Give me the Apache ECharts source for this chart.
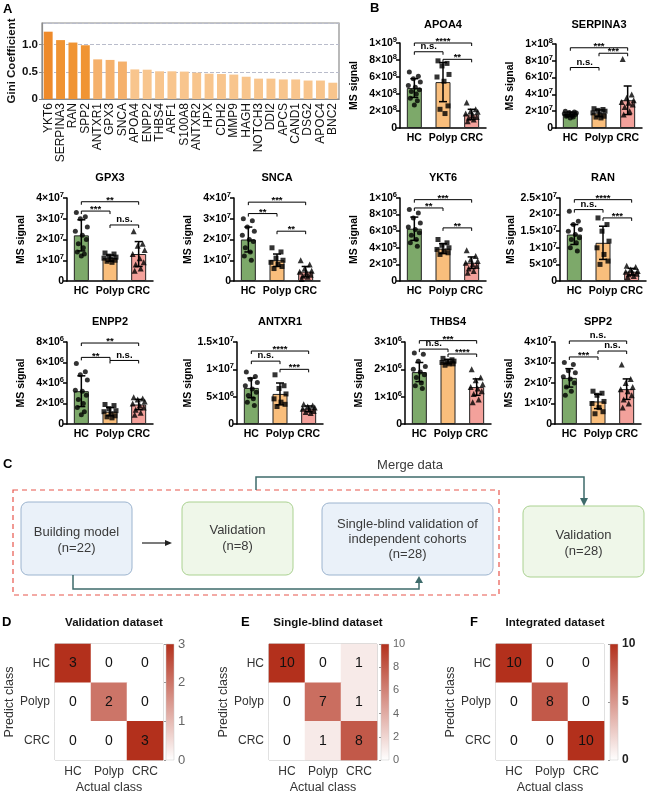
<!DOCTYPE html>
<html><head><meta charset="utf-8">
<script src="https://cdn.jsdelivr.net/npm/echarts@6/dist/echarts.min.js"></script>
<style>html,body{margin:0;padding:0;background:#fff}#c{width:662px;height:798px}</style>
</head><body><div id="c"></div>
<script>
const FONT = '"Liberation Sans", Arial, Helvetica, sans-serif';

// ---------- Panel A data ----------
const giniGenes = ['YKT6','SERPINA3','RAN','SPP2','ANTXR1','GPX3','SNCA','APOA4','ENPP2','THBS4','ARF1','S100A8','ANTXR2','HPX','CDH2','MMP9','HAGH','NOTCH3','DDI2','APCS','CAND1','DSG2','APOC4','BNC2'];
const giniValues = [1.24,1.085,1.04,0.99,0.73,0.72,0.69,0.545,0.54,0.51,0.51,0.505,0.485,0.467,0.46,0.45,0.41,0.375,0.375,0.36,0.36,0.34,0.34,0.30];
const giniTicks = ['0','0.5','1.0'];

// ---------- Panel B data (values in each panel's unit) ----------
const groups = ['HC','Polyp','CRC'];

const APOA4_unit = 1e8, APOA4_step = 2;
const APOA4_ticks = ['0','2×10^8','4×10^8','6×10^8','8×10^8','1×10^9'];
const APOA4_mean = [4.7, 5.4, 1.6];
const APOA4_sd = [1.1, 2.3, 0.6];
const APOA4_HC = [6.6, 6.1, 5.8, 5.4, 5.0, 4.8, 4.5, 4.3, 4.0, 3.5, 3.2, 2.7];
const APOA4_Polyp = [7.9, 7.6, 7.3, 6.3, 6.0, 5.5, 2.6, 2.2, 1.7];
const APOA4_CRC = [3.0, 2.2, 2.0, 1.9, 1.7, 1.5, 1.3, 1.2, 1.0, 0.8];
const APOA4_sig = [[0,2,10,'****'],[0,1,8.97,'n.s.'],[1,2,8.08,'**']];

const SERPINA3_unit = 1e7, SERPINA3_step = 2;
const SERPINA3_ticks = ['0','2×10^7','4×10^7','6×10^7','8×10^7','1×10^8'];
const SERPINA3_mean = [1.65, 1.75, 3.3];
const SERPINA3_sd = [0.25, 0.4, 1.7];
const SERPINA3_HC = [2.0, 1.9, 1.85, 1.8, 1.7, 1.65, 1.6, 1.5, 1.45, 1.4, 1.3, 1.2];
const SERPINA3_Polyp = [2.3, 2.2, 2.1, 2.0, 1.8, 1.6, 1.4, 1.3, 1.2];
const SERPINA3_CRC = [8.2, 4.0, 3.6, 3.3, 3.1, 3.0, 2.8, 2.5, 2.0, 1.6];
const SERPINA3_sig = [[0,2,9.55,'***'],[1,2,8.9,'***'],[0,1,7.2,'n.s.']];

const GPX3_unit = 1e7, GPX3_step = 1;
const GPX3_ticks = ['0','1×10^7','2×10^7','3×10^7','4×10^7'];
const GPX3_mean = [2.2, 1.1, 1.3];
const GPX3_sd = [0.75, 0.15, 0.6];
const GPX3_HC = [3.3, 3.1, 3.0, 2.6, 2.4, 2.2, 2.0, 1.8, 1.6, 1.4, 1.3, 1.2];
const GPX3_Polyp = [1.35, 1.3, 1.2, 1.15, 1.1, 1.05, 1.0, 0.95, 0.9];
const GPX3_CRC = [2.4, 1.8, 1.7, 1.5, 1.3, 1.1, 0.9, 0.8, 0.6, 0.5];
const GPX3_sig = [[0,2,3.82,'**'],[0,1,3.37,'***'],[1,2,2.7,'n.s.']];

const SNCA_unit = 1e7, SNCA_step = 1;
const SNCA_ticks = ['0','1×10^7','2×10^7','3×10^7','4×10^7'];
const SNCA_mean = [2.0, 1.0, 0.45];
const SNCA_sd = [0.6, 0.3, 0.25];
const SNCA_HC = [3.0, 2.9, 2.6, 2.4, 2.2, 2.0, 1.9, 1.6, 1.4, 1.2, 1.0];
const SNCA_Polyp = [1.6, 1.4, 1.1, 1.0, 0.9, 0.8, 0.7, 0.6];
const SNCA_CRC = [1.0, 0.8, 0.6, 0.5, 0.45, 0.4, 0.3, 0.25, 0.2, 0.1];
const SNCA_sig = [[0,2,3.8,'***'],[0,1,3.25,'**'],[1,2,2.4,'**']];

const YKT6_unit = 1e5, YKT6_step = 2;
const YKT6_ticks = ['0','2×10^5','4×10^5','6×10^5','8×10^5','1×10^6'];
const YKT6_mean = [6.3, 3.9, 2.2];
const YKT6_sd = [1.4, 0.6, 0.7];
const YKT6_HC = [8.6, 8.2, 7.6, 7.0, 6.5, 6.2, 5.8, 5.5, 5.0, 4.6, 4.2];
const YKT6_Polyp = [5.0, 4.6, 4.3, 4.0, 3.8, 3.6, 3.4, 3.2];
const YKT6_CRC = [3.7, 3.0, 2.6, 2.4, 2.2, 2.0, 1.8, 1.5, 1.2, 1.0];
const YKT6_sig = [[0,2,9.8,'***'],[0,1,8.8,'**'],[1,2,6.4,'**']];

const RAN_unit = 1e6, RAN_step = 5;
const RAN_ticks = ['0','5×10^6','1×10^7','1.5×10^7','2×10^7','2.5×10^7'];
const RAN_mean = [14, 11.5, 2.8];
const RAN_sd = [3, 5, 1.0];
const RAN_HC = [21, 18, 17, 15.5, 15, 14, 13, 12.5, 11.5, 10, 9];
const RAN_Polyp = [19, 17, 15, 12, 10, 8, 6, 5];
const RAN_CRC = [4.6, 4.2, 3.5, 3.0, 2.8, 2.5, 2.2, 2.0, 1.5, 1.2];
const RAN_sig = [[0,2,24.5,'****'],[0,1,21.5,'n.s.'],[1,2,19,'***']];

const ENPP2_unit = 1e6, ENPP2_step = 2;
const ENPP2_ticks = ['0','2×10^6','4×10^6','6×10^6','8×10^6'];
const ENPP2_mean = [3.2, 1.2, 1.9];
const ENPP2_sd = [1.5, 0.4, 0.5];
const ENPP2_HC = [5.9, 5.1, 4.8, 4.3, 3.3, 3.2, 2.8, 2.4, 2.0, 1.6, 1.2, 0.9];
const ENPP2_Polyp = [1.9, 1.8, 1.5, 1.3, 1.2, 1.0, 0.8, 0.7, 0.6];
const ENPP2_CRC = [2.6, 2.5, 2.4, 2.2, 2.0, 1.8, 1.6, 1.4, 1.1, 0.9];
const ENPP2_sig = [[0,2,7.9,'**'],[0,1,6.5,'**'],[1,2,6.2,'n.s.']];

const ANTXR1_unit = 1e6, ANTXR1_step = 5;
const ANTXR1_ticks = ['0','5×10^6','1×10^7','1.5×10^7'];
const ANTXR1_mean = [6.6, 5.5, 2.8];
const ANTXR1_sd = [1.8, 2.0, 0.5];
const ANTXR1_HC = [9.5, 8.7, 8.2, 7.6, 7.0, 6.4, 5.8, 5.2, 4.6, 4.0, 3.4];
const ANTXR1_Polyp = [9.0, 7.0, 6.5, 5.5, 4.6, 4.0, 3.6, 3.2];
const ANTXR1_CRC = [3.6, 3.4, 3.2, 3.0, 2.8, 2.6, 2.4, 2.2, 2.0];
const ANTXR1_sig = [[0,2,13.35,'****'],[0,1,11.5,'n.s.'],[1,2,10,'***']];

const THBS4_unit = 1e6, THBS4_step = 1;
const THBS4_ticks = ['0','1×10^6','2×10^6','3×10^6'];
const THBS4_mean = [1.9, 2.28, 1.35];
const THBS4_sd = [0.35, 0.08, 0.3];
const THBS4_HC = [2.6, 2.55, 2.3, 2.1, 2.0, 1.9, 1.8, 1.7, 1.5, 1.4, 1.3];
const THBS4_Polyp = [2.4, 2.35, 2.3, 2.3, 2.25, 2.2, 2.2, 2.15];
const THBS4_CRC = [2.0, 1.7, 1.6, 1.45, 1.35, 1.3, 1.2, 1.1, 0.9, 0.8];
const THBS4_sig = [[0,2,3.05,'***'],[0,1,2.74,'n.s.'],[1,2,2.56,'****']];

const SPP2_unit = 1e7, SPP2_step = 1;
const SPP2_ticks = ['0','1×10^7','2×10^7','3×10^7','4×10^7'];
const SPP2_mean = [2.25, 1.1, 1.7];
const SPP2_sd = [0.45, 0.35, 0.5];
const SPP2_HC = [3.0, 2.9, 2.6, 2.5, 2.3, 2.2, 2.0, 1.8, 1.6, 1.4];
const SPP2_Polyp = [1.6, 1.5, 1.4, 1.1, 1.0, 0.8, 0.6, 0.5];
const SPP2_CRC = [2.9, 2.2, 2.0, 1.8, 1.7, 1.6, 1.4, 1.2, 1.0, 0.8];
const SPP2_sig = [[0,2,4.05,'n.s.'],[1,2,3.56,'n.s.'],[0,1,3.27,'***']];

// ---------- Panels D/E/F data ----------
const classes = ['HC','Polyp','CRC'];
const validationMatrix = [[3,0,0],[0,2,0],[0,0,3]];
const singleBlindMatrix = [[10,0,1],[0,7,1],[0,1,8]];
const integratedMatrix = [[10,0,0],[0,8,0],[0,0,10]];
const validationTicks = ['0','1','2','3'];
const singleBlindTicks = ['0','2','4','6','8','10'];
const integratedTicks = ['0','5','10'];

// ---------- build ----------
const chart = echarts.init(document.getElementById('c'));
const grids = [], xAxes = [], yAxes = [], series = [], visualMaps = [], graphics = [];
function addGrid(g){ grids.push(Object.assign({containLabel:false}, g)); return grids.length - 1; }

// Panel A
(function(){
  const gi = addGrid({left:42, top:23, width:297, height:76, show:true, borderColor:'#8c8c8c', borderWidth:1.2});
  xAxes.push({gridIndex:gi, type:'category', data:giniGenes,
    axisLine:{lineStyle:{color:'#8c8c8c', width:1.2}}, axisTick:{show:false},
    axisLabel:{rotate:90, interval:0, fontSize:12, color:'#111', fontFamily:FONT, margin:4, hideOverlap:false}});
  yAxes.push({gridIndex:gi, type:'value', min:0, max:1.4, interval:0.5,
    name:'Gini Coefficient', nameLocation:'middle', nameGap:17,
    nameTextStyle:{fontWeight:'bold', fontSize:11.5, color:'#111', fontFamily:FONT},
    axisLine:{show:true, lineStyle:{color:'#8c8c8c', width:1.2}},
    axisTick:{show:true, length:3, lineStyle:{color:'#8c8c8c'}},
    axisLabel:{fontWeight:'bold', fontSize:11.5, color:'#111', fontFamily:FONT, margin:4, showMaxLabel:false, showMinLabel:true,
      formatter: v => { const i = Math.round(v/0.5); return Math.abs(v - i*0.5) < 1e-9 ? (giniTicks[i] || '') : ''; }},
    splitLine:{show:true, lineStyle:{type:'dashed', color:'#b9bccb', width:1}}});
  series.push({type:'bar', xAxisIndex:xAxes.length-1, yAxisIndex:yAxes.length-1, data:giniValues, barWidth:'72%',
    itemStyle:{color: p => p.value >= 0.9 ? (p.dataIndex === 0 ? '#EE8A2A' : '#F09433') : (p.value >= 0.6 ? '#F5B16C' : '#F8C58D')}});
})();

// Panel B
const barColors = ['#7DA96A','#F9BE7C','#F3A19B'];
const symbols = ['circle','rect','triangle'];
const symSize = [5, 5, 6];
const jit = [-5,4,-1,6,-6,1,5,-3,2,-4,3,0];
const bPanels = [
  {name:'APOA4', unit:APOA4_unit, step:APOA4_step, ticks:APOA4_ticks, mean:APOA4_mean, sd:APOA4_sd, pts:[APOA4_HC,APOA4_Polyp,APOA4_CRC], sig:APOA4_sig, left:400, top:43, h:85, ty:25},
  {name:'SERPINA3', unit:SERPINA3_unit, step:SERPINA3_step, ticks:SERPINA3_ticks, mean:SERPINA3_mean, sd:SERPINA3_sd, pts:[SERPINA3_HC,SERPINA3_Polyp,SERPINA3_CRC], sig:SERPINA3_sig, left:556, top:44, h:84, ty:25},
  {name:'GPX3', unit:GPX3_unit, step:GPX3_step, ticks:GPX3_ticks, mean:GPX3_mean, sd:GPX3_sd, pts:[GPX3_HC,GPX3_Polyp,GPX3_CRC], sig:GPX3_sig, left:67, top:198, h:83, ty:178},
  {name:'SNCA', unit:SNCA_unit, step:SNCA_step, ticks:SNCA_ticks, mean:SNCA_mean, sd:SNCA_sd, pts:[SNCA_HC,SNCA_Polyp,SNCA_CRC], sig:SNCA_sig, left:234, top:198, h:83, ty:178},
  {name:'YKT6', unit:YKT6_unit, step:YKT6_step, ticks:YKT6_ticks, mean:YKT6_mean, sd:YKT6_sd, pts:[YKT6_HC,YKT6_Polyp,YKT6_CRC], sig:YKT6_sig, left:400, top:198, h:83, ty:178},
  {name:'RAN', unit:RAN_unit, step:RAN_step, ticks:RAN_ticks, mean:RAN_mean, sd:RAN_sd, pts:[RAN_HC,RAN_Polyp,RAN_CRC], sig:RAN_sig, left:560, top:198, h:83, ty:178},
  {name:'ENPP2', unit:ENPP2_unit, step:ENPP2_step, ticks:ENPP2_ticks, mean:ENPP2_mean, sd:ENPP2_sd, pts:[ENPP2_HC,ENPP2_Polyp,ENPP2_CRC], sig:ENPP2_sig, left:67, top:342, h:82, ty:322},
  {name:'ANTXR1', unit:ANTXR1_unit, step:ANTXR1_step, ticks:ANTXR1_ticks, mean:ANTXR1_mean, sd:ANTXR1_sd, pts:[ANTXR1_HC,ANTXR1_Polyp,ANTXR1_CRC], sig:ANTXR1_sig, left:237, top:342, h:82, ty:322},
  {name:'THBS4', unit:THBS4_unit, step:THBS4_step, ticks:THBS4_ticks, mean:THBS4_mean, sd:THBS4_sd, pts:[THBS4_HC,THBS4_Polyp,THBS4_CRC], sig:THBS4_sig, left:405, top:342, h:82, ty:322},
  {name:'SPP2', unit:SPP2_unit, step:SPP2_step, ticks:SPP2_ticks, mean:SPP2_mean, sd:SPP2_sd, pts:[SPP2_HC,SPP2_Polyp,SPP2_CRC], sig:SPP2_sig, left:555, top:342, h:82, ty:322}
];
const PW = 86;
const supRich = {
  b:{fontWeight:'bold', fontSize:10.5, color:'#000', fontFamily:FONT, lineHeight:14, verticalAlign:'middle'},
  s:{fontWeight:'bold', fontSize:7.5, color:'#000', fontFamily:FONT, lineHeight:8, verticalAlign:'top'}
};
function supFmt(t){ const m = t.split('^'); return m.length > 1 ? '{b|' + m[0] + '}{s|' + m[1] + '}' : '{b|' + t + '}'; }
bPanels.forEach(p => {
  const gi = addGrid({left:p.left, top:p.top, width:PW, height:p.h});
  const iv = p.step * p.unit;
  xAxes.push({gridIndex:gi, type:'category', data:groups,
    axisLine:{lineStyle:{color:'#000', width:1.5}}, axisTick:{show:false},
    axisLabel:{interval:0, fontWeight:'bold', fontSize:10.5, color:'#000', fontFamily:FONT, margin:5, hideOverlap:false}});
  yAxes.push({gridIndex:gi, type:'value', min:0, max:iv*(p.ticks.length-1), interval:iv,
    name:'MS signal', nameLocation:'middle', nameGap:40,
    nameTextStyle:{fontWeight:'bold', fontSize:10.5, color:'#000', fontFamily:FONT},
    axisLine:{show:true, lineStyle:{color:'#000', width:1.5}},
    axisTick:{show:true, length:4, lineStyle:{color:'#000', width:1.5}},
    splitLine:{show:false},
    axisLabel:{margin:3, rich:supRich, showMinLabel:true, showMaxLabel:true,
      formatter: v => { const t = p.ticks[Math.round(v/iv)]; return t ? supFmt(t) : ''; }}});
  const xi = xAxes.length-1, yi = yAxes.length-1;
  series.push({type:'bar', xAxisIndex:xi, yAxisIndex:yi, barWidth:15, z:2,
    data:p.mean.map((m,i)=>({value:m*p.unit, itemStyle:{color:barColors[i]}})),
    itemStyle:{borderColor:'#222', borderWidth:1}});
  series.push({type:'scatter', xAxisIndex:xi, yAxisIndex:yi, z:3, itemStyle:{color:'#000'},
    data:p.pts.flatMap((arr,g)=>arr.map((v,k)=>({value:[g, v*p.unit], symbol:symbols[g], symbolSize:symSize[g], symbolOffset:[jit[k%jit.length],0]})))});
  series.push({type:'custom', xAxisIndex:xi, yAxisIndex:yi, z:4, clip:false,
    data:p.mean.map((m,i)=>[i, Math.max(0,(m-p.sd[i]))*p.unit, (m+p.sd[i])*p.unit]),
    renderItem:(params, api) => {
      const lo = api.coord([api.value(0), api.value(1)]), hi = api.coord([api.value(0), api.value(2)]);
      const hw = 4, st = {stroke:'#000', lineWidth:1.5};
      return {type:'group', children:[
        {type:'line', shape:{x1:hi[0], y1:hi[1], x2:lo[0], y2:lo[1]}, style:st},
        {type:'line', shape:{x1:hi[0]-hw, y1:hi[1], x2:hi[0]+hw, y2:hi[1]}, style:st},
        {type:'line', shape:{x1:lo[0]-hw, y1:lo[1], x2:lo[0]+hw, y2:lo[1]}, style:st}]};
    }});
  series.push({type:'custom', xAxisIndex:xi, yAxisIndex:yi, z:5, clip:false,
    data:p.sig.map(s=>[s[0], s[1], s[2]*p.unit]),
    renderItem:(params, api) => {
      const a = api.coord([api.value(0), api.value(2)]), b = api.coord([api.value(1), api.value(2)]);
      const lbl = p.sig[params.dataIndex][3];
      const star = lbl.indexOf('*') >= 0;
      return {type:'group', children:[
        {type:'polyline', shape:{points:[[a[0],a[1]+3],[a[0],a[1]],[b[0],b[1]],[b[0],b[1]+3]]}, style:{stroke:'#000', lineWidth:1, fill:null}},
        {type:'text', style:{text:lbl, x:(a[0]+b[0])/2, y:a[1] + (star ? 3.5 : -0.5), align:'center', verticalAlign:'bottom', textAlign:'center', textVerticalAlign:'bottom', font:'bold 9.5px ' + FONT, fill:'#000'}}]};
    }});
  graphics.push({type:'text', x:p.left + PW/2, y:p.ty, style:{text:p.name, font:'bold 11px ' + FONT, fill:'#000', align:'center', verticalAlign:'middle', textAlign:'center', textVerticalAlign:'middle'}});
});

// Panels D/E/F
const hms = [
  {m:validationMatrix, ticks:validationTicks, step:1, title:'Validation dataset', left:55, cb:166, bold:false, cbFont:13},
  {m:singleBlindMatrix, ticks:singleBlindTicks, step:2, title:'Single-blind dataset', left:269, cb:381, bold:false, cbFont:11},
  {m:integratedMatrix, ticks:integratedTicks, step:5, title:'Integrated dataset', left:496, cb:610, bold:true, cbFont:12}
];
const HT = 644, HH = 116, HW = 108;
hms.forEach(h => {
  const gi = addGrid({left:h.left, top:HT, width:HW, height:HH, show:true, borderColor:'#9a9a9a', borderWidth:0.8});
  xAxes.push({gridIndex:gi, type:'category', data:classes, name:'Actual class', nameLocation:'middle', nameGap:21,
    nameTextStyle:{fontSize:12.5, color:'#333', fontFamily:FONT},
    axisLine:{show:false}, axisTick:{show:false}, splitLine:{show:false},
    axisLabel:{interval:0, fontSize:12, color:'#333', fontFamily:FONT, margin:6, hideOverlap:false}});
  yAxes.push({gridIndex:gi, type:'category', data:classes, inverse:true, name:'Predict class', nameLocation:'middle', nameGap:31,
    nameTextStyle:{fontSize:12.5, color:'#333', fontFamily:FONT},
    axisLine:{show:false}, axisTick:{show:false}, splitLine:{show:false},
    axisLabel:{interval:0, fontSize:12, color:'#333', fontFamily:FONT, margin:5, hideOverlap:false}});
  const max = h.step*(h.ticks.length-1);
  const data = [];
  h.m.forEach((row, r) => row.forEach((v, c) => data.push([c, r, v])));
  series.push({type:'heatmap', xAxisIndex:xAxes.length-1, yAxisIndex:yAxes.length-1, data,
    label:{show:true, fontSize:14, color:'#111', fontFamily:FONT}, emphasis:{disabled:true}});
  visualMaps.push({show:false, seriesIndex:series.length-1, min:0, max, dimension:2, inRange:{color:['#ffffff','#B3301C']}});
  // colorbar
  const cg = addGrid({left:h.cb, top:HT, width:8, height:HH, show:true, borderColor:'#c8c8c8', borderWidth:0.5,
    backgroundColor:new echarts.graphic.LinearGradient(0,0,0,1,[{offset:0,color:'#B3301C'},{offset:1,color:'#ffffff'}])});
  xAxes.push({gridIndex:cg, type:'value', min:0, max:1, show:false});
  yAxes.push({gridIndex:cg, type:'value', position:'right', min:0, max, interval:h.step,
    axisLine:{show:false}, splitLine:{show:false},
    axisTick:{show:true, inside:true, length:2, lineStyle:{color:'#999'}},
    axisLabel:{fontSize:h.cbFont, color:h.bold ? '#222' : '#666', fontWeight:h.bold ? 'bold' : 'normal', fontFamily:FONT, margin:4, showMinLabel:true, showMaxLabel:true,
      formatter: v => h.ticks[Math.round(v/h.step)] || ''}});
  graphics.push({type:'text', x:h.left + HW/2 + 5, y:623, style:{text:h.title, font:'bold 11.5px ' + FONT, fill:'#111', align:'center', verticalAlign:'middle', textAlign:'center', textVerticalAlign:'middle'}});
});

// Panel letters
[['A',3,9],['B',370,8],['C',3,464],['D',2,622],['E',241,622],['F',470,622]].forEach(l => {
  graphics.push({type:'text', x:l[1], y:l[2], style:{text:l[0], font:'bold 13px ' + FONT, fill:'#000', align:'left', verticalAlign:'middle', textAlign:'left', textVerticalAlign:'middle'}});
});

// Panel C flowchart
const TEAL = '#3E6B6B';
const txt = (t, x, y, lh) => ({type:'text', x, y, style:{text:t, font:'13px ' + FONT, fill:'#3a3a3a', lineHeight:lh || 16, align:'center', verticalAlign:'middle', textAlign:'center', textVerticalAlign:'middle'}});
graphics.push(
  {type:'rect', shape:{x:13, y:490, width:486, height:105}, style:{fill:null, stroke:'#E8564C', lineWidth:1.2, lineDash:[5,4]}},
  {type:'rect', shape:{x:21, y:502, width:111, height:73, r:7}, style:{fill:'#EAF1F9', stroke:'#9CB4CF', lineWidth:1}},
  {type:'rect', shape:{x:182, y:502, width:111, height:73, r:7}, style:{fill:'#EFF7E9', stroke:'#ABD291', lineWidth:1}},
  {type:'rect', shape:{x:322, y:503, width:171, height:72, r:7}, style:{fill:'#EAF1F9', stroke:'#9CB4CF', lineWidth:1}},
  {type:'rect', shape:{x:523, y:506, width:121, height:71, r:7}, style:{fill:'#EFF7E9', stroke:'#ABD291', lineWidth:1}},
  txt('Building model\n(n=22)', 76.5, 540),
  txt('Validation\n(n=8)', 237.5, 538),
  txt('Single-blind validation of\nindependent cohorts\n(n=28)', 407.5, 539, 15),
  txt('Validation\n(n=28)', 583.5, 543),
  txt('Merge data', 410, 465),
  {type:'line', shape:{x1:142, y1:543, x2:166, y2:543}, style:{stroke:'#222', lineWidth:1.2}},
  {type:'polygon', shape:{points:[[172,543],[165,540],[165,546]]}, style:{fill:'#222'}},
  {type:'polyline', shape:{points:[[256,490],[256,477],[584,477],[584,499]]}, style:{stroke:TEAL, lineWidth:1.5, fill:null}},
  {type:'polygon', shape:{points:[[584,506],[580,498],[588,498]]}, style:{fill:TEAL}},
  {type:'polyline', shape:{points:[[73,575],[73,589],[419,589],[419,582]]}, style:{stroke:TEAL, lineWidth:1.5, fill:null}},
  {type:'polygon', shape:{points:[[419,576],[415,583],[423,583]]}, style:{fill:TEAL}}
);

chart.setOption({
  animation:false,
  backgroundColor:'#fff',
  textStyle:{fontFamily:FONT},
  grid:grids, xAxis:xAxes, yAxis:yAxes, series, visualMap:visualMaps, graphic:graphics
});
</script></body></html>
